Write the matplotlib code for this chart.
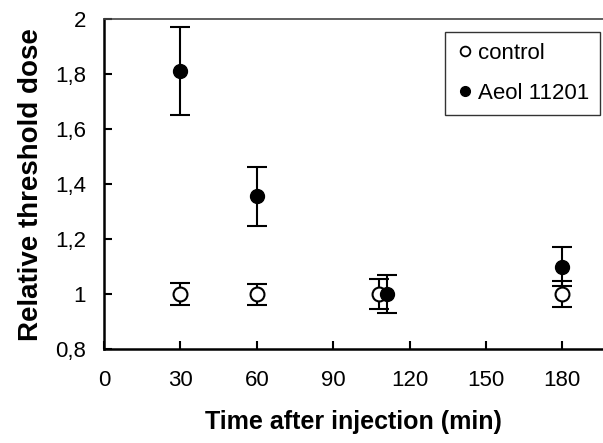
import matplotlib.pyplot as plt
from matplotlib.ticker import FuncFormatter
from matplotlib.lines import Line2D

plt.rcParams['font.family'] = ['Liberation Sans', 'DejaVu Sans']

# datos
t_control = [30, 60, 108, 180]
y_control = [1.0, 1.0, 1.0, 1.0]
e_control = [0.04, 0.038, 0.055, 0.048]

t_aeol = [30, 60, 111, 180]
y_aeol = [1.81, 1.355, 1.0, 1.1]
e_aeol = [0.16, 0.107, 0.07, 0.07]

fig = plt.figure(figsize=(6.03, 4.43), dpi=100)
ax = fig.add_axes([0.1725, 0.212, 0.8275, 0.745])

ax.errorbar(t_control, y_control, yerr=e_control, fmt='o', mfc='white', mec='black',
            mew=1.5, ms=10, ecolor='black', elinewidth=1.5, capsize=7, capthick=1.5)
ax.errorbar(t_aeol, y_aeol, yerr=e_aeol, fmt='o', mfc='black', mec='black',
            ms=10, ecolor='black', elinewidth=1.5, capsize=7, capthick=1.5)

ax.set_xlim(0, 196)
ax.set_ylim(0.8, 2.0)
ax.set_xticks([0, 30, 60, 90, 120, 150, 180])
ax.set_yticks([0.8, 1.0, 1.2, 1.4, 1.6, 1.8, 2.0])
ax.yaxis.set_major_formatter(FuncFormatter(lambda v, p: ('%g' % round(v, 1)).replace('.', ',')))
ax.tick_params(direction='in', length=6, width=1.5, labelsize=16)
ax.tick_params(axis='x', pad=15)
ax.tick_params(axis='y', pad=13)

for s in ['left', 'bottom']:
    ax.spines[s].set_linewidth(1.8)
ax.spines['right'].set_visible(False)
ax.spines['top'].set_color('#444444')
ax.spines['top'].set_linewidth(1.2)

ax.set_xlabel('Time after injection (min)', fontsize=18, fontweight='bold', labelpad=14)
ax.set_ylabel('Relative threshold dose', fontsize=20, fontweight='bold', labelpad=8)

handles = [Line2D([], [], ls='none', marker='o', ms=7, mfc='white', mec='black', mew=1.3),
           Line2D([], [], ls='none', marker='o', ms=7, mfc='black', mec='black')]
leg = ax.legend(handles, ['control', 'Aeol 11201'], loc='upper right',
                bbox_to_anchor=(0.994, 0.962), fontsize=16, frameon=True, fancybox=False,
                edgecolor='black', handletextpad=0.15, handlelength=0.8,
                borderpad=0.5, labelspacing=0.85, borderaxespad=0)
leg.get_frame().set_linewidth(1.0)

fig.savefig('out.png', dpi=100)
